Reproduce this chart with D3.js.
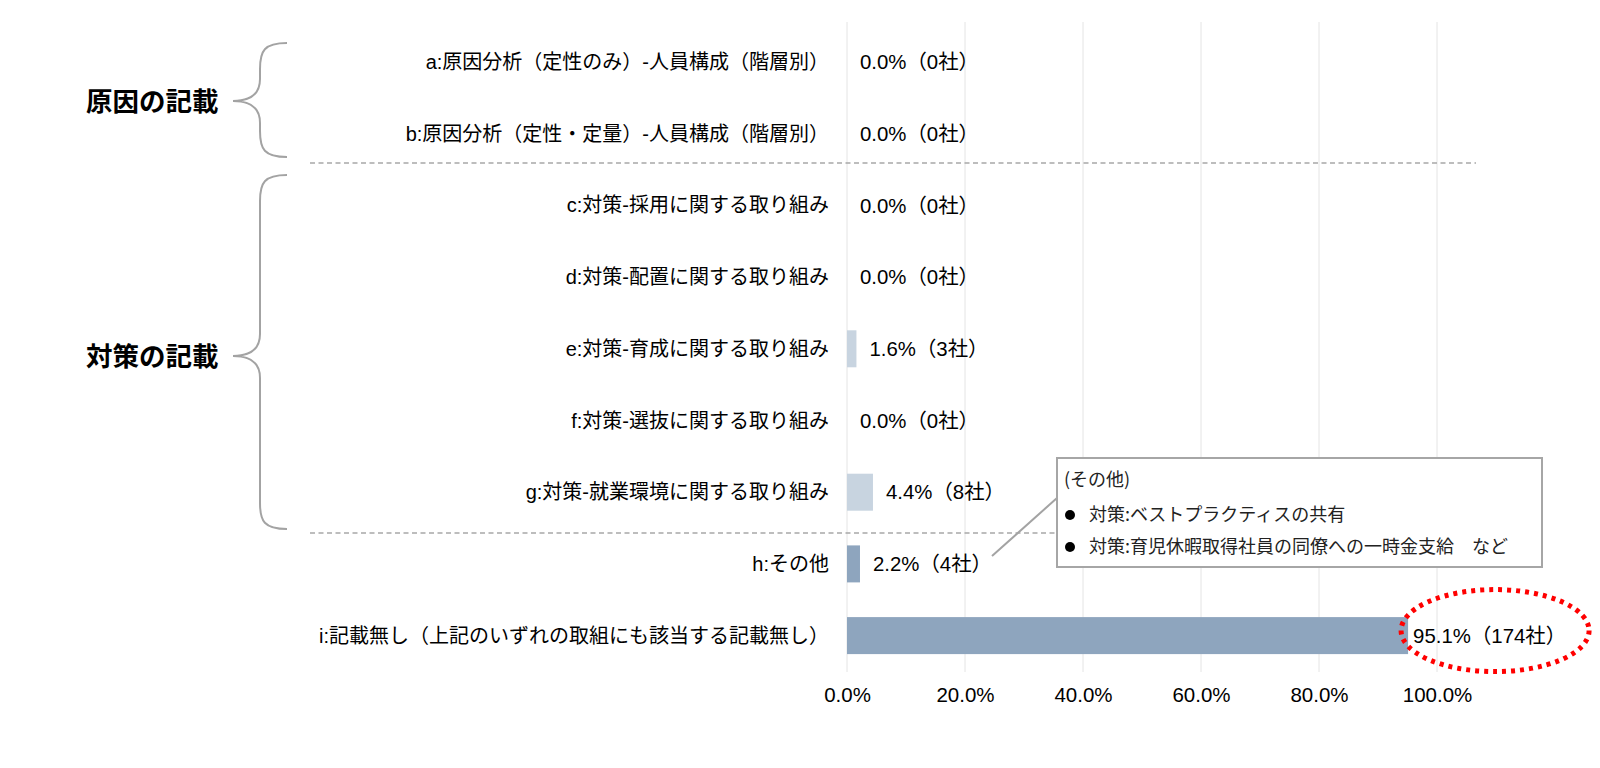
<!DOCTYPE html>
<html>
<head>
<meta charset="utf-8">
<script src="https://cdn.jsdelivr.net/npm/d3@7"></script>
<style>
  body { margin: 0; background: #fff; }
  text { font-family: "Liberation Sans", Arial, "Noto Sans CJK JP", sans-serif; }
</style>
</head>
<body>
<script>
// data
var categories = [
  'a:原因分析（定性のみ）-人員構成（階層別）',
  'b:原因分析（定性・定量）-人員構成（階層別）',
  'c:対策-採用に関する取り組み',
  'd:対策-配置に関する取り組み',
  'e:対策-育成に関する取り組み',
  'f:対策-選抜に関する取り組み',
  'g:対策-就業環境に関する取り組み',
  'h:その他',
  'i:記載無し（上記のいずれの取組にも該当する記載無し）'
];
var percents = [0.0, 0.0, 0.0, 0.0, 1.6, 0.0, 4.4, 2.2, 95.1];
var companies = [0, 0, 0, 0, 3, 0, 8, 4, 174];
var barGroup = ['cause', 'cause', 'measure', 'measure', 'measure', 'measure', 'measure', 'other', 'other'];
var xTicks = [0, 20, 40, 60, 80, 100];
var groupLabels = ['原因の記載', '対策の記載'];
var noteTitle = '(その他)';
var noteLines = ['対策:ベストプラクティスの共有', '対策:育児休暇取得社員の同僚への一時金支給　など'];

var colors = { cause: '#c8d4e0', measure: '#c8d4e0', other: '#8ea5be' };

var svg = d3.select(document.body)
    .append('svg')
    .attr('width', 1600)
    .attr('height', 768);

var x = d3.scaleLinear().domain([0, 100]).range([847, 1437]);
var y = d3.scaleBand()
    .domain(categories)
    .range([26.15, 671.45])
    .paddingInner(0.484)
    .paddingOuter(0.242);
var bw = y.bandwidth();

// gridlines
svg.append('g')
    .selectAll('line')
    .data(xTicks)
    .enter()
    .append('line')
    .attr('x1', function(d) { return x(d); })
    .attr('x2', function(d) { return x(d); })
    .attr('y1', 22)
    .attr('y2', 672)
    .attr('stroke', '#e4e4e4')
    .attr('stroke-width', 1);

// x axis labels
var xAxis = svg.append('g')
    .attr('transform', 'translate(0,672)')
    .call(d3.axisBottom(x).tickValues(xTicks).tickSize(0)
        .tickFormat(function(d) { return d.toFixed(1) + '%'; }));
xAxis.select('.domain').remove();
xAxis.selectAll('text')
    .attr('y', 23)
    .attr('dy', '0.35em')
    .attr('fill', '#000')
    .style('font-size', '20.5px')
    .style('font-family', '"Liberation Sans", Arial, sans-serif');

// separators between groups
svg.append('g')
    .selectAll('line')
    .data([163, 533])
    .enter()
    .append('line')
    .attr('x1', 310)
    .attr('x2', 1476)
    .attr('y1', function(d) { return d; })
    .attr('y2', function(d) { return d; })
    .attr('stroke', '#a8a8a8')
    .attr('stroke-width', 1.3)
    .attr('stroke-dasharray', '5,3.5');

// category labels
svg.append('g')
    .selectAll('text')
    .data(categories)
    .enter()
    .append('text')
    .attr('x', 829)
    .attr('y', function(d) { return y(d) + bw / 2; })
    .attr('dy', '0.35em')
    .attr('text-anchor', 'end')
    .style('font-size', '20px')
    .attr('fill', '#000')
    .text(function(d) { return d; });

// bars
svg.append('g')
    .selectAll('rect')
    .data(categories)
    .enter()
    .append('rect')
    .attr('x', x(0))
    .attr('y', function(d) { return y(d); })
    .attr('height', bw)
    .attr('width', function(d, i) { return x(percents[i]) - x(0); })
    .attr('fill', function(d, i) { return colors[barGroup[i]]; });

// value labels (the long bar's label sits a little closer to its end)
var last = categories.length - 1;
svg.append('g')
    .selectAll('text')
    .data(categories)
    .enter()
    .append('text')
    .attr('x', function(d, i) { return x(percents[i]) + (i == last ? 5 : 13); })
    .attr('y', function(d) { return y(d) + bw / 2; })
    .attr('dy', '0.35em')
    .style('font-size', '20.4px')
    .attr('fill', '#000')
    .text(function(d, i) { return percents[i].toFixed(1) + '%（' + companies[i] + '社）'; });

// braces + group labels
function bracePath(top, mid, bottom) {
  var xe = 287, xv = 260, xt = 233;
  return 'M' + xe + ',' + top +
      ' C' + (xv + 4) + ',' + top + ' ' + xv + ',' + (top + 8) + ' ' + xv + ',' + (top + 26) +
      ' L' + xv + ',' + (mid - 22) +
      ' C' + xv + ',' + (mid - 6) + ' ' + (xv - 10) + ',' + mid + ' ' + xt + ',' + mid +
      ' C' + (xv - 10) + ',' + mid + ' ' + xv + ',' + (mid + 6) + ' ' + xv + ',' + (mid + 22) +
      ' L' + xv + ',' + (bottom - 26) +
      ' C' + xv + ',' + (bottom - 8) + ' ' + (xv + 4) + ',' + bottom + ' ' + xe + ',' + bottom;
}
var braces = [[43, 101, 157], [175, 356, 529]];
svg.append('g')
    .selectAll('path')
    .data(braces)
    .enter()
    .append('path')
    .attr('d', function(d) { return bracePath(d[0], d[1], d[2]); })
    .attr('fill', 'none')
    .attr('stroke', '#a3a3a3')
    .attr('stroke-width', 2);
svg.append('g')
    .selectAll('text')
    .data(groupLabels)
    .enter()
    .append('text')
    .attr('x', 86)
    .attr('y', function(d, i) { return braces[i][1]; })
    .attr('dy', '0.36em')
    .style('font-size', '26.5px')
    .style('font-weight', 'bold')
    .style('font-family', '"Noto Sans CJK JP", sans-serif')
    .attr('fill', '#000')
    .text(function(d) { return d; });

// callout for "h:その他"
svg.append('line')
    .attr('x1', 992).attr('y1', 556)
    .attr('x2', 1057).attr('y2', 498)
    .attr('stroke', '#a3a3a3')
    .attr('stroke-width', 2);
svg.append('rect')
    .attr('x', 1057).attr('y', 458)
    .attr('width', 485).attr('height', 109)
    .attr('fill', '#fff')
    .attr('stroke', '#a6a6a6')
    .attr('stroke-width', 2);
svg.append('text')
    .attr('x', 1064).attr('y', 480)
    .attr('dy', '0.35em')
    .style('font-size', '18px')
    .style('font-family', '"Noto Sans CJK JP", sans-serif')
    .attr('fill', '#222')
    .text(noteTitle);
var note = svg.append('g')
    .selectAll('g')
    .data(noteLines)
    .enter()
    .append('g')
    .attr('transform', function(d, i) { return 'translate(0,' + (515 + i * 32) + ')'; });
note.append('circle')
    .attr('cx', 1070)
    .attr('r', 5)
    .attr('fill', '#000');
note.append('text')
    .attr('x', 1089)
    .attr('dy', '0.35em')
    .style('font-size', '18px')
    .style('font-family', '"Noto Sans CJK JP", sans-serif')
    .attr('fill', '#222')
    .text(function(d) { return d; });

// red dotted ellipse around the last value label
svg.append('ellipse')
    .attr('cx', x(percents[last]) + 87)
    .attr('cy', y(categories[last]) + bw / 2 - 5)
    .attr('rx', 94)
    .attr('ry', 41)
    .attr('fill', 'none')
    .attr('stroke', '#ff0000')
    .attr('stroke-width', 5)
    .attr('stroke-dasharray', '4,5');
</script>
</body>
</html>
